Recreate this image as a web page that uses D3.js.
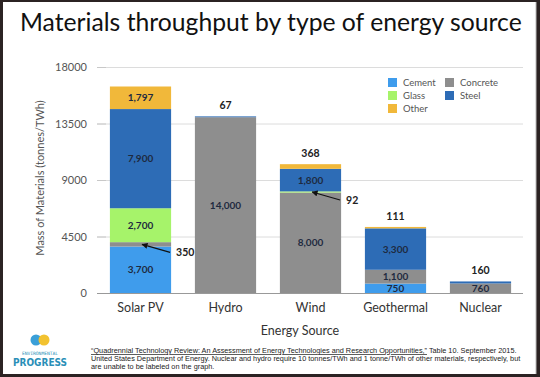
<!DOCTYPE html>
<html><head><meta charset="utf-8">
<script src="https://cdnjs.cloudflare.com/ajax/libs/d3/7.8.5/d3.min.js"></script>
<style>
html,body{margin:0;padding:0;background:#2b2323;}
svg{display:block;}
</style></head>
<body>
<svg id="c" width="540" height="377"></svg>
<script>
const categories = ["Solar PV", "Hydro", "Wind", "Geothermal", "Nuclear"];
const seriesNames = ["Cement", "Concrete", "Glass", "Steel", "Other"];
const cement   = [3700, 0, 0, 750, 0];
const concrete = [350, 14000, 8000, 1100, 760];
const glass    = [2700, 0, 92, 0, 0];
const steel    = [7900, 67, 1800, 3300, 160];
const other    = [1797, 0, 368, 111, 0];
const yTicks = [0, 4500, 9000, 13500, 18000];
const colors = {Cement:"#3f9cec", Concrete:"#8e8e8e", Glass:"#a6f36a", Steel:"#2d6cb6", Other:"#f1b83a"};
const insideLabels = [
  [0,"Cement"],[0,"Glass"],[0,"Steel"],[0,"Other"],
  [1,"Concrete"],[2,"Concrete"],[2,"Steel"],
  [3,"Cement"],[3,"Concrete"],[3,"Steel"],[4,"Concrete"]
];
const topLabels = [[1,"Steel"],[2,"Other"],[3,"Other"],[4,"Steel"]];
const calloutLabels = [[0,"Concrete"],[2,"Glass"]];

const seriesData = {Cement:cement, Concrete:concrete, Glass:glass, Steel:steel, Other:other};
const table = categories.map((c,i)=>{const o={cat:c}; seriesNames.forEach(s=>o[s]=seriesData[s][i]); return o;});
const stacked = d3.stack().keys(seriesNames)(table);

const svg = d3.select("#c");
svg.append("rect").attr("x",3).attr("y",2).attr("width",533).attr("height",372).attr("fill","#fff");
svg.append("line").attr("x1",536).attr("x2",536).attr("y1",2).attr("y2",374).attr("stroke","#bbb");

const x = d3.scaleBand().domain(categories).range([98,523]).paddingInner(0.28).paddingOuter(0.14);
const y = d3.scaleLinear().domain([0,18000]).range([293,67]);

const title = svg.append("text").attr("x",20).attr("y",31).attr("font-family","Lato").attr("font-size",22)
  .attr("fill","#111").text("Materials throughput by type of energy source");
const tl = title.node().getComputedTextLength();
if (tl > 0) title.attr("font-size", 22 * 502 / tl);

svg.append("g").selectAll("line").data(yTicks.filter(d=>d>0)).join("line")
  .attr("x1",97).attr("x2",523).attr("y1",d=>y(d)+0.5).attr("y2",d=>y(d)+0.5)
  .attr("stroke","#dcdcdc").attr("stroke-width",1);

const yAxis = svg.append("g").attr("transform","translate(106,0)")
  .call(d3.axisLeft(y).tickValues(yTicks).tickFormat(d3.format("d")).tickSize(9).tickPadding(10));
yAxis.select(".domain").remove();
yAxis.selectAll(".tick line").attr("stroke","#c8c8c8");
yAxis.selectAll("text").attr("font-family","Lato").attr("font-size",11).attr("fill","#555");

svg.append("text").attr("transform","translate(44,178) rotate(-90)").attr("text-anchor","middle")
  .attr("font-family","Lato").attr("font-size",11).attr("fill","#555").text("Mass of Materials (tonnes/TWh)");

svg.append("g").selectAll("g").data(stacked).join("g").attr("fill",d=>colors[d.key])
  .selectAll("rect").data(d=>d).join("rect")
  .attr("x",d=>x(d.data.cat)).attr("width",x.bandwidth())
  .attr("y",d=>y(d[1])).attr("height",d=>Math.max(0,y(d[0])-y(d[1])));

svg.append("line").attr("x1",97).attr("x2",523).attr("y1",y(0)+0.5).attr("y2",y(0)+0.5).attr("stroke","#999");

const fmt = d3.format(",");
function seg(i,s){const layer=stacked.find(l=>l.key===s); return layer[i];}
svg.append("g").selectAll("text").data(insideLabels).join("text")
  .attr("x",d=>x(categories[d[0]])+x.bandwidth()/2)
  .attr("y",d=>{const g=seg(d[0],d[1]); return (y(g[0])+y(g[1]))/2+3.5;})
  .attr("text-anchor","middle").attr("font-family","Lato").attr("font-weight","bold").attr("font-size",10)
  .attr("fill","#1e2a40").text(d=>fmt(seriesData[d[1]][d[0]]));
svg.append("g").selectAll("text").data(topLabels).join("text")
  .attr("x",d=>x(categories[d[0]])+x.bandwidth()/2)
  .attr("y",d=>y(seg(d[0],d[1])[1])-7)
  .attr("text-anchor","middle").attr("font-family","Lato").attr("font-weight","bold").attr("font-size",10.5)
  .attr("fill","#222").text(d=>fmt(seriesData[d[1]][d[0]]));
svg.append("defs").append("marker").attr("id","ah").attr("viewBox","0 0 10 10").attr("refX",9).attr("refY",5)
  .attr("markerWidth",5).attr("markerHeight",5).attr("orient","auto")
  .append("path").attr("d","M0,0L10,5L0,10z").attr("fill","#111");
calloutLabels.forEach(d=>{
  const g=seg(d[0],d[1]);
  const right=x(categories[d[0]])+x.bandwidth();
  const ym=(y(g[0])+y(g[1]))/2;
  const tx=right+5, ty=ym+9;
  svg.append("line").attr("x1",right-1).attr("y1",ty-1).attr("x2",right-29).attr("y2",ym)
    .attr("stroke","#111").attr("stroke-width",1.2).attr("marker-end","url(#ah)");
  svg.append("text").attr("x",tx).attr("y",ty+3).attr("font-family","Lato").attr("font-weight","bold")
    .attr("font-size",10.5).attr("fill","#222").text(fmt(seriesData[d[1]][d[0]]));
});

svg.append("g").selectAll("text").data(categories).join("text")
  .attr("x",d=>x(d)+x.bandwidth()/2).attr("y",312).attr("text-anchor","middle")
  .attr("font-family","Lato").attr("font-size",12.5).attr("fill","#333").text(d=>d);
svg.append("text").attr("x",300).attr("y",335).attr("text-anchor","middle")
  .attr("font-family","Lato").attr("font-size",12.5).attr("fill","#333").text("Energy Source");

const legendItems = [["Cement",388,86],["Concrete",445,86],["Glass",388,99],["Steel",445,99],["Other",388,112]];
const lg = svg.append("g");
legendItems.forEach(([k,lx,ly])=>{
  lg.append("rect").attr("x",lx).attr("y",ly-8).attr("width",9).attr("height",9).attr("fill",colors[k]);
  lg.append("text").attr("x",lx+15).attr("y",ly).attr("font-family","Lato").attr("font-size",9.5).attr("fill","#555").text(k);
});

const foot = [
  "United States Department of Energy. Nuclear and hydro require 10 tonnes/TWh and 1 tonne/TWh of other materials, respectively, but",
  "are unable to be labeled on the graph."
];
const f1 = svg.append("text").attr("x",91).attr("y",353).attr("font-family","Liberation Sans").attr("font-size",7.3).attr("fill","#222");
f1.append("tspan").attr("text-decoration","underline").text("\u201CQuadrennial Technology Review: An Assessment of Energy Technologies and Research Opportunities,\u201D");
f1.append("tspan").text(" Table 10. September 2015.");
foot.forEach((t,i)=>svg.append("text").attr("x",91).attr("y",361+i*7.5).attr("font-family","Liberation Sans")
  .attr("font-size",7.3).attr("fill","#222").text(t));

const logo = svg.append("g");
logo.append("circle").attr("cx",36).attr("cy",340).attr("r",5.5).attr("fill","#3a9fd8");
logo.append("circle").attr("cx",44).attr("cy",340).attr("r",5.5).attr("fill","#f2c230");
logo.append("text").attr("x",40).attr("y",355).attr("text-anchor","middle").attr("font-family","DejaVu Sans Mono")
  .attr("font-size",4.6).attr("fill","#2a8fb8").text("ENVIRONMENTAL");
logo.append("text").attr("x",40).attr("y",366).attr("text-anchor","middle").attr("font-family","DejaVu Sans Condensed")
  .attr("font-weight","bold").attr("font-size",10).attr("fill","#2a8fb8").text("PROGRESS");
</script>
</body></html>
